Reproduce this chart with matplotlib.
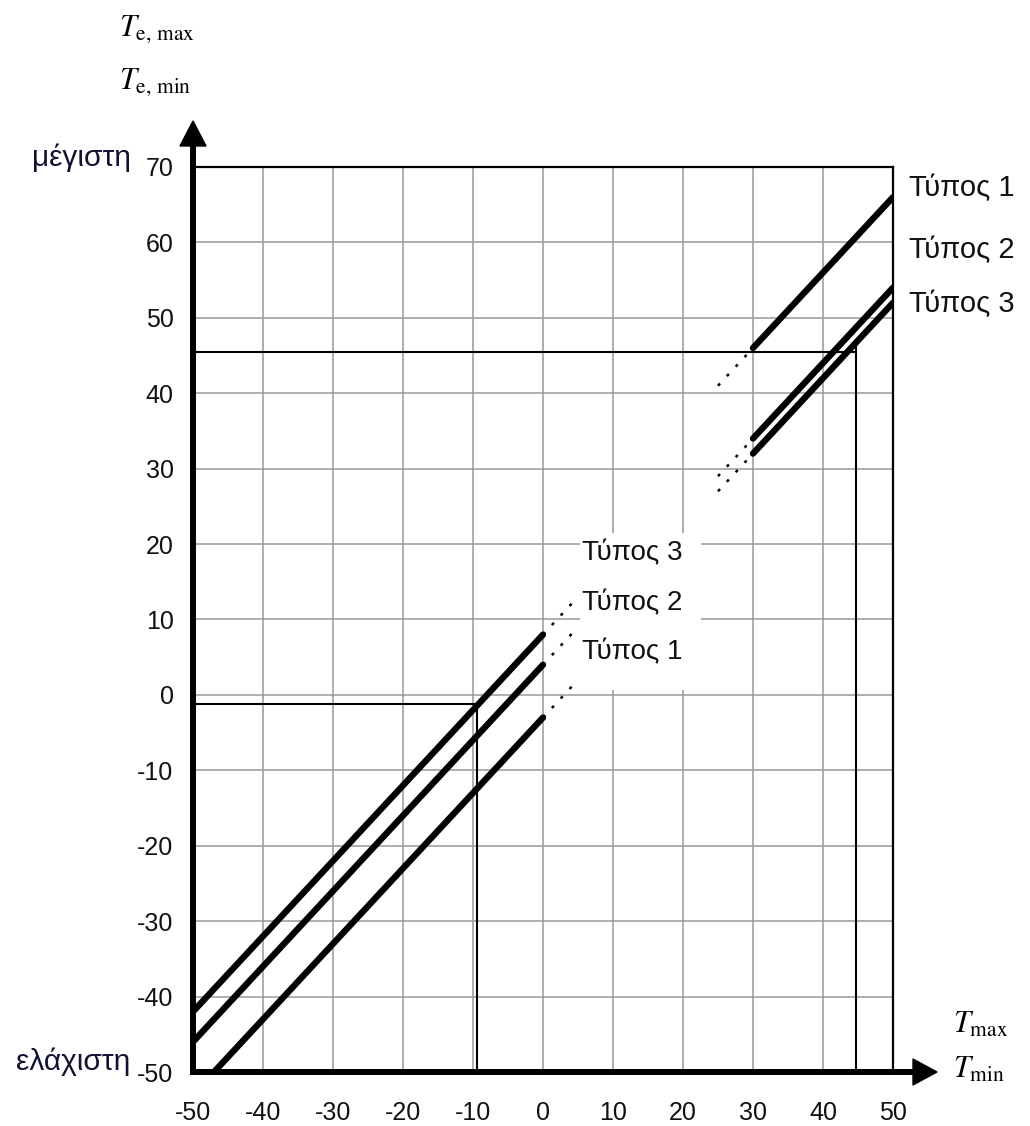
import matplotlib
matplotlib.use("Agg")
import matplotlib.pyplot as plt
from matplotlib.patches import Polygon, Rectangle

# ---------------- data ----------------
x_ticks = [-50, -40, -30, -20, -10, 0, 10, 20, 30, 40, 50]
y_ticks = [-50, -40, -30, -20, -10, 0, 10, 20, 30, 40, 50, 60, 70]

# minimum effective temperature (solid part)
tmin_x = [-50, 0]
te_min_type1 = [-53, -3]
te_min_type2 = [-46, 4]
te_min_type3 = [-42, 8]
# dotted continuation
tmin_ext_x = [0, 5]
te_min_ext_type1 = [-3, 2]
te_min_ext_type2 = [4, 9]
te_min_ext_type3 = [8, 13]

# maximum effective temperature (solid part)
tmax_x = [30, 50]
te_max_type1 = [46, 66]
te_max_type2 = [34, 54]
te_max_type3 = [32, 52]
# dotted continuation
tmax_ext_x = [25, 30]
te_max_ext_type1 = [41, 46]
te_max_ext_type2 = [29, 34]
te_max_ext_type3 = [27, 32]

# example reading lines
ex_min_x, ex_min_y = -9.5, -1.2
ex_max_x, ex_max_y, ex_max_top = 44.7, 45.5, 47.0

type_labels = ["Τύπος 1", "Τύπος 2", "Τύπος 3"]
right_label_y = [67.2, 59.0, 51.9]
inner_label_y = [5.6, 12.2, 18.8]

# ---------------- figure ----------------
plt.rcParams['font.family'] = ['Liberation Sans', 'DejaVu Sans']
plt.rcParams['mathtext.fontset'] = 'stix'
plt.rcParams['axes.unicode_minus'] = False

W, H = 1030, 1126
fig = plt.figure(figsize=(W / 100, H / 100), dpi=100)
L, R, T, B = 193, 893, 167, 1072
ax = fig.add_axes([L / W, 1 - B / H, (R - L) / W, (B - T) / H])
xmin, xmax, ymin, ymax = -50, 50, -50, 70
ax.set_xlim(xmin, xmax)
ax.set_ylim(ymin, ymax)
ax.set_xticks(x_ticks)
ax.set_yticks(y_ticks)
ax.tick_params(axis='both', length=0, labelsize=18, colors='#111111')
ax.tick_params(axis='y', pad=14)
ax.tick_params(axis='x', pad=21)
ax.grid(True, color='#999999', lw=1.1, zorder=0)
ax.set_axisbelow(True)

for s in ['top', 'right']:
    ax.spines[s].set_linewidth(1.6)
    ax.spines[s].set_color('black')
for s in ['left', 'bottom']:
    ax.spines[s].set_linewidth(4.3)
    ax.spines[s].set_color('black')
    ax.spines[s].set_zorder(6)

# arrows (extend spines)
px_x = (xmax - xmin) / (R - L)   # data units per pixel (x)
px_y = (ymax - ymin) / (B - T)   # data units per pixel (y)
ax.plot([xmin, xmin], [ymax, ymax + 25 * px_y], color='black', lw=4.3,
        clip_on=False, solid_capstyle='butt', zorder=6)
ax.add_patch(Polygon([[xmin, ymax + 46 * px_y],
                      [xmin - 13 * px_x, ymax + 21 * px_y],
                      [xmin + 13 * px_x, ymax + 21 * px_y]],
                     closed=True, color='black', clip_on=False, zorder=6))
ax.plot([xmax, xmax + 22 * px_x], [ymin, ymin], color='black', lw=4.3,
        clip_on=False, solid_capstyle='butt', zorder=6)
ax.add_patch(Polygon([[xmax + 44 * px_x, ymin],
                      [xmax + 20 * px_x, ymin + 13 * px_y],
                      [xmax + 20 * px_x, ymin - 13 * px_y]],
                     closed=True, color='black', clip_on=False, zorder=6))

# white box behind inner labels
ax.add_patch(Rectangle((5.3, 0.7), 17.2, 20.8, facecolor='white',
                       edgecolor='none', zorder=1))

# example reading lines
ax.plot([xmin, ex_min_x, ex_min_x], [ex_min_y, ex_min_y, ymin],
        color='black', lw=1.5, zorder=2)
ax.plot([xmin, ex_max_x], [ex_max_y, ex_max_y], color='black', lw=1.5, zorder=2)
ax.plot([ex_max_x, ex_max_x], [ex_max_top, ymin], color='black', lw=1.5, zorder=2)

# main curves
lw_main = 4.6
for yy in (te_min_type1, te_min_type2, te_min_type3):
    ax.plot(tmin_x, yy, color='black', lw=lw_main, solid_capstyle='round', zorder=3)
for yy in (te_max_type1, te_max_type2, te_max_type3):
    ax.plot(tmax_x, yy, color='black', lw=lw_main, solid_capstyle='round', zorder=3)

dot_style = dict(color='black', lw=1.8, linestyle=(0, (1.2, 4.0)), zorder=3)
for yy in (te_min_ext_type1, te_min_ext_type2, te_min_ext_type3):
    ax.plot(tmin_ext_x, yy, **dot_style)
for yy in (te_max_ext_type1, te_max_ext_type2, te_max_ext_type3):
    ax.plot(tmax_ext_x, yy, **dot_style)

# labels
for lab, yv in zip(type_labels, right_label_y):
    ax.text(52.3, yv, lab, fontsize=21, va='center', ha='left',
            color='#111111', clip_on=False)
for lab, yv in zip(type_labels, inner_label_y):
    ax.text(5.5, yv, lab, fontsize=20, va='center', ha='left',
            color='#111111', zorder=4)

fig.text(131 / W, 1 - 158 / H, 'μέγιστη', fontsize=21.5, ha='right',
         va='center', color='#111133')
fig.text(130 / W, 1 - 1062 / H, 'ελάχιστη', fontsize=21.5, ha='right',
         va='center', color='#111133')

fig.text(119 / W, 1 - 36 / H, r'$T_{\mathrm{e,\,max}}$', fontsize=22,
         ha='left', va='baseline')
fig.text(119 / W, 1 - 89 / H, r'$T_{\mathrm{e,\,min}}$', fontsize=22,
         ha='left', va='baseline')
fig.text(953 / W, 1 - 1033 / H, r'$T_{\mathrm{max}}$', fontsize=22,
         ha='left', va='baseline')
fig.text(953 / W, 1 - 1078 / H, r'$T_{\mathrm{min}}$', fontsize=22,
         ha='left', va='baseline')

fig.savefig('out.png', dpi=100)
